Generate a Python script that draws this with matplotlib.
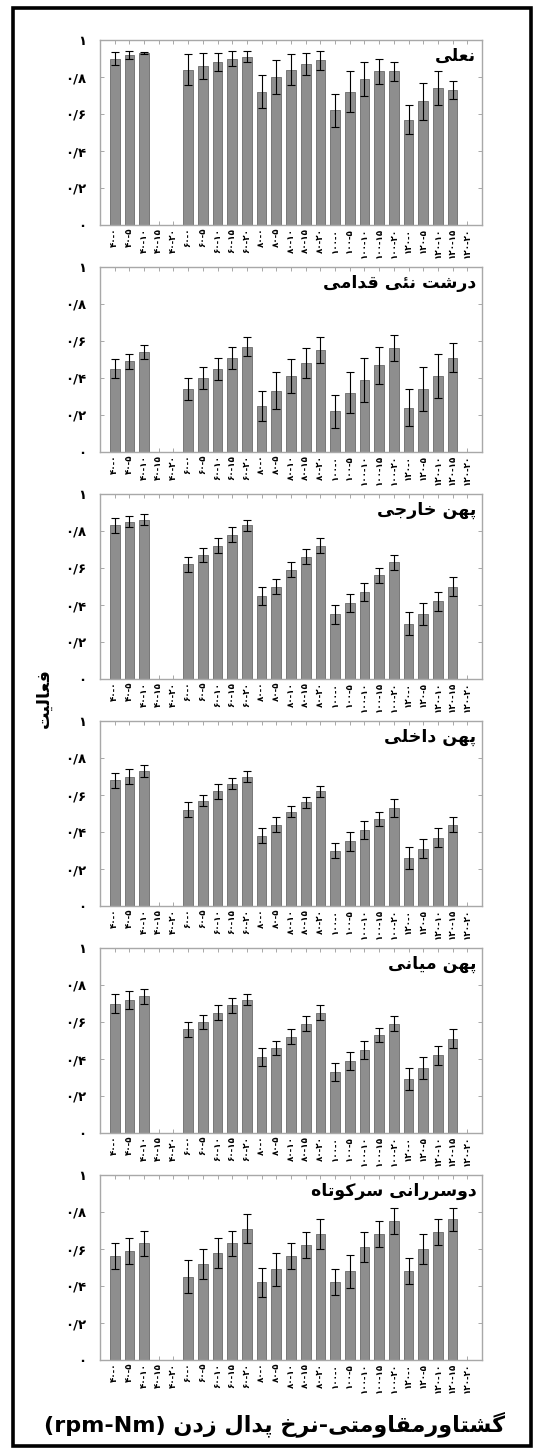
import numpy as np
import matplotlib
matplotlib.use("Agg")
import matplotlib.pyplot as plt
from matplotlib.patches import Rectangle

plt.rcParams['font.family'] = ['DejaVu Sans']

# ---------------------------------------------------------------- data
rpm_levels = ['۴۰', '۶۰', '۸۰', '۱۰۰', '۱۲۰']
torque_levels = ['۰', '۵', '۱۰', '۱۵', '۲۰']
tick_labels = [f'{r}-{t}' for r in rpm_levels for t in torque_levels]

muscles = ['نعلی', 'درشت نئی قدامی', 'پهن خارجی', 'پهن داخلی',
           'پهن میانی', 'دوسررانی سرکوتاه']

N = None
soleus_mean = [0.90, 0.92, 0.93, N, N, 0.84, 0.86, 0.88, 0.90, 0.91,
               0.72, 0.80, 0.84, 0.87, 0.89, 0.62, 0.72, 0.79, 0.83, 0.83,
               0.57, 0.67, 0.74, 0.73, N]
soleus_sd = [0.035, 0.02, 0.005, N, N, 0.083, 0.07, 0.05, 0.04, 0.03,
             0.09, 0.09, 0.083, 0.06, 0.05, 0.09, 0.11, 0.09, 0.07, 0.05,
             0.08, 0.10, 0.09, 0.05, N]

tibialis_mean = [0.45, 0.49, 0.54, N, N, 0.34, 0.40, 0.45, 0.51, 0.57,
                 0.25, 0.33, 0.41, 0.48, 0.55, 0.22, 0.32, 0.39, 0.47, 0.56,
                 0.24, 0.34, 0.41, 0.51, N]
tibialis_sd = [0.05, 0.04, 0.04, N, N, 0.06, 0.06, 0.06, 0.06, 0.05,
               0.08, 0.10, 0.09, 0.08, 0.07, 0.09, 0.11, 0.12, 0.10, 0.07,
               0.10, 0.12, 0.12, 0.08, N]

vl_mean = [0.83, 0.85, 0.86, N, N, 0.62, 0.67, 0.72, 0.78, 0.83,
           0.45, 0.50, 0.59, 0.66, 0.72, 0.35, 0.41, 0.47, 0.56, 0.63,
           0.30, 0.35, 0.42, 0.50, N]
vl_sd = [0.04, 0.03, 0.03, N, N, 0.04, 0.04, 0.04, 0.04, 0.03,
         0.05, 0.04, 0.04, 0.04, 0.04, 0.05, 0.05, 0.05, 0.04, 0.04,
         0.06, 0.06, 0.05, 0.05, N]

vm_mean = [0.68, 0.70, 0.73, N, N, 0.52, 0.57, 0.62, 0.66, 0.70,
           0.38, 0.44, 0.51, 0.56, 0.62, 0.30, 0.35, 0.41, 0.47, 0.53,
           0.26, 0.31, 0.37, 0.44, N]
vm_sd = [0.04, 0.04, 0.03, N, N, 0.04, 0.03, 0.04, 0.03, 0.03,
         0.04, 0.04, 0.03, 0.03, 0.03, 0.04, 0.05, 0.05, 0.04, 0.05,
         0.06, 0.05, 0.05, 0.04, N]

vi_mean = [0.70, 0.72, 0.74, N, N, 0.56, 0.60, 0.65, 0.69, 0.72,
           0.41, 0.46, 0.52, 0.59, 0.65, 0.33, 0.39, 0.45, 0.53, 0.59,
           0.29, 0.35, 0.42, 0.51, N]
vi_sd = [0.05, 0.05, 0.04, N, N, 0.04, 0.04, 0.04, 0.04, 0.03,
         0.05, 0.04, 0.04, 0.04, 0.04, 0.05, 0.05, 0.05, 0.04, 0.04,
         0.06, 0.06, 0.05, 0.05, N]

bf_mean = [0.56, 0.59, 0.63, N, N, 0.45, 0.52, 0.58, 0.63, 0.71,
           0.42, 0.49, 0.56, 0.62, 0.68, 0.42, 0.48, 0.61, 0.68, 0.75,
           0.48, 0.60, 0.69, 0.76, N]
bf_sd = [0.07, 0.07, 0.07, N, N, 0.09, 0.08, 0.08, 0.07, 0.08,
         0.08, 0.09, 0.07, 0.07, 0.08, 0.07, 0.09, 0.08, 0.07, 0.07,
         0.07, 0.08, 0.07, 0.06, N]

panel_means = [soleus_mean, tibialis_mean, vl_mean, vm_mean, vi_mean, bf_mean]
panel_sds = [soleus_sd, tibialis_sd, vl_sd, vm_sd, vi_sd, bf_sd]

y_ticks = [0, 0.2, 0.4, 0.6, 0.8, 1.0]
y_tick_labels = ['۰', '۰/۲', '۰/۴', '۰/۶', '۰/۸', '۱']
y_title = 'فعالیت'
x_title = 'گشتاورمقاومتی-نرخ پدال زدن'
x_unit = '(rpm-Nm)'

# ------------------------------------------------ Persian glyph shaping
# (isolated, final, initial, medial); two entries = right-joining only
FORMS = {
    'ا': ('\uFE8D', '\uFE8E'),
    'د': ('\uFEA9', '\uFEAA'),
    'ر': ('\uFEAD', '\uFEAE'),
    'ز': ('\uFEAF', '\uFEB0'),
    'و': ('\uFEED', '\uFEEE'),
    'پ': ('\uFB56', '\uFB57', '\uFB58', '\uFB59'),
    'ت': ('\uFE95', '\uFE96', '\uFE97', '\uFE98'),
    'ج': ('\uFE9D', '\uFE9E', '\uFE9F', '\uFEA0'),
    'خ': ('\uFEA5', '\uFEA6', '\uFEA7', '\uFEA8'),
    'س': ('\uFEB1', '\uFEB2', '\uFEB3', '\uFEB4'),
    'ش': ('\uFEB5', '\uFEB6', '\uFEB7', '\uFEB8'),
    'ع': ('\uFEC9', '\uFECA', '\uFECB', '\uFECC'),
    'ف': ('\uFED1', '\uFED2', '\uFED3', '\uFED4'),
    'ق': ('\uFED5', '\uFED6', '\uFED7', '\uFED8'),
    'ک': ('\uFB8E', '\uFB8F', '\uFB90', '\uFB91'),
    'گ': ('\uFB92', '\uFB93', '\uFB94', '\uFB95'),
    'ل': ('\uFEDD', '\uFEDE', '\uFEDF', '\uFEE0'),
    'م': ('\uFEE1', '\uFEE2', '\uFEE3', '\uFEE4'),
    'ن': ('\uFEE5', '\uFEE6', '\uFEE7', '\uFEE8'),
    'ه': ('\uFEE9', '\uFEEA', '\uFEEB', '\uFEEC'),
    'ی': ('\uFBFC', '\uFBFD', '\uFBFE', '\uFBFF'),
    'ئ': ('\uFE89', '\uFE8A', '\uFE8B', '\uFE8C'),
}


def shape_rtl(text):
    out = []
    for i, ch in enumerate(text):
        if ch not in FORMS:
            out.append(ch)
            continue
        prev = text[i - 1] if i > 0 else ''
        nxt = text[i + 1] if i + 1 < len(text) else ''
        join_prev = prev in FORMS and len(FORMS[prev]) == 4
        join_next = len(FORMS[ch]) == 4 and nxt in FORMS
        f = FORMS[ch]
        if join_prev and join_next:
            out.append(f[3])
        elif join_prev:
            out.append(f[1])
        elif join_next:
            out.append(f[2])
        else:
            out.append(f[0])
    return ''.join(reversed(out))


# ---------------------------------------------------------------- figure
W, H = 539, 1452
fig = plt.figure(figsize=(W / 100, H / 100), dpi=100)

# outer frame
fig.patches.append(Rectangle((13 / W, 1 - 1446 / H), (531 - 13) / W,
                             (1446 - 8) / H, transform=fig.transFigure,
                             fill=False, edgecolor='black', linewidth=2.6))

ax_left, ax_right = 100, 482
panel_top0, panel_h, panel_step = 40, 185, 227
positions = np.arange(1, len(tick_labels) + 1)
bar_color = '#8e8e8e'
spine_color = '#a8a8a8'

for k, (name, means, sds) in enumerate(zip(muscles, panel_means, panel_sds)):
    top = panel_top0 + k * panel_step
    ax = fig.add_axes([ax_left / W, 1 - (top + panel_h) / H,
                       (ax_right - ax_left) / W, panel_h / H])
    xs = [p for p, m in zip(positions, means) if m is not None]
    ms = [m for m in means if m is not None]
    ss = [s for s in sds if s is not None]
    ax.bar(xs, ms, width=0.66, color=bar_color, edgecolor='#6a6a6a',
           linewidth=0.6, zorder=2)
    ax.errorbar(xs, ms, yerr=ss, fmt='none', ecolor='black',
                elinewidth=0.8, capsize=3, capthick=0.8, zorder=3)
    ax.set_xlim(0, 26)
    ax.set_ylim(0, 1)
    ax.set_yticks(y_ticks)
    ax.set_yticklabels(y_tick_labels, fontsize=9.5, fontweight='bold')
    ax.set_xticks(positions)
    ax.set_xticklabels(tick_labels, rotation=90, fontsize=6.3,
                       fontweight='bold')
    ax.tick_params(axis='both', direction='in', length=3, width=0.7,
                   color=spine_color, top=True, right=True)
    ax.tick_params(axis='y', pad=10)
    ax.tick_params(axis='x', pad=2)
    for sp in ax.spines.values():
        sp.set_color(spine_color)
        sp.set_linewidth(1.0)
    ax.text(0.985, 0.915, shape_rtl(name), transform=ax.transAxes,
            ha='right', va='center', fontsize=12.5, fontweight='bold')

fig.text(44 / W, 1 - 698 / H, shape_rtl(y_title), rotation=90,
         ha='center', va='center', fontsize=12.5, fontweight='bold')
fig.text(274 / W, 1 - 1424 / H, x_unit + ' ' + shape_rtl(x_title),
         ha='center', va='center', fontsize=16, fontweight='bold')

fig.savefig('out.png', dpi=100)
